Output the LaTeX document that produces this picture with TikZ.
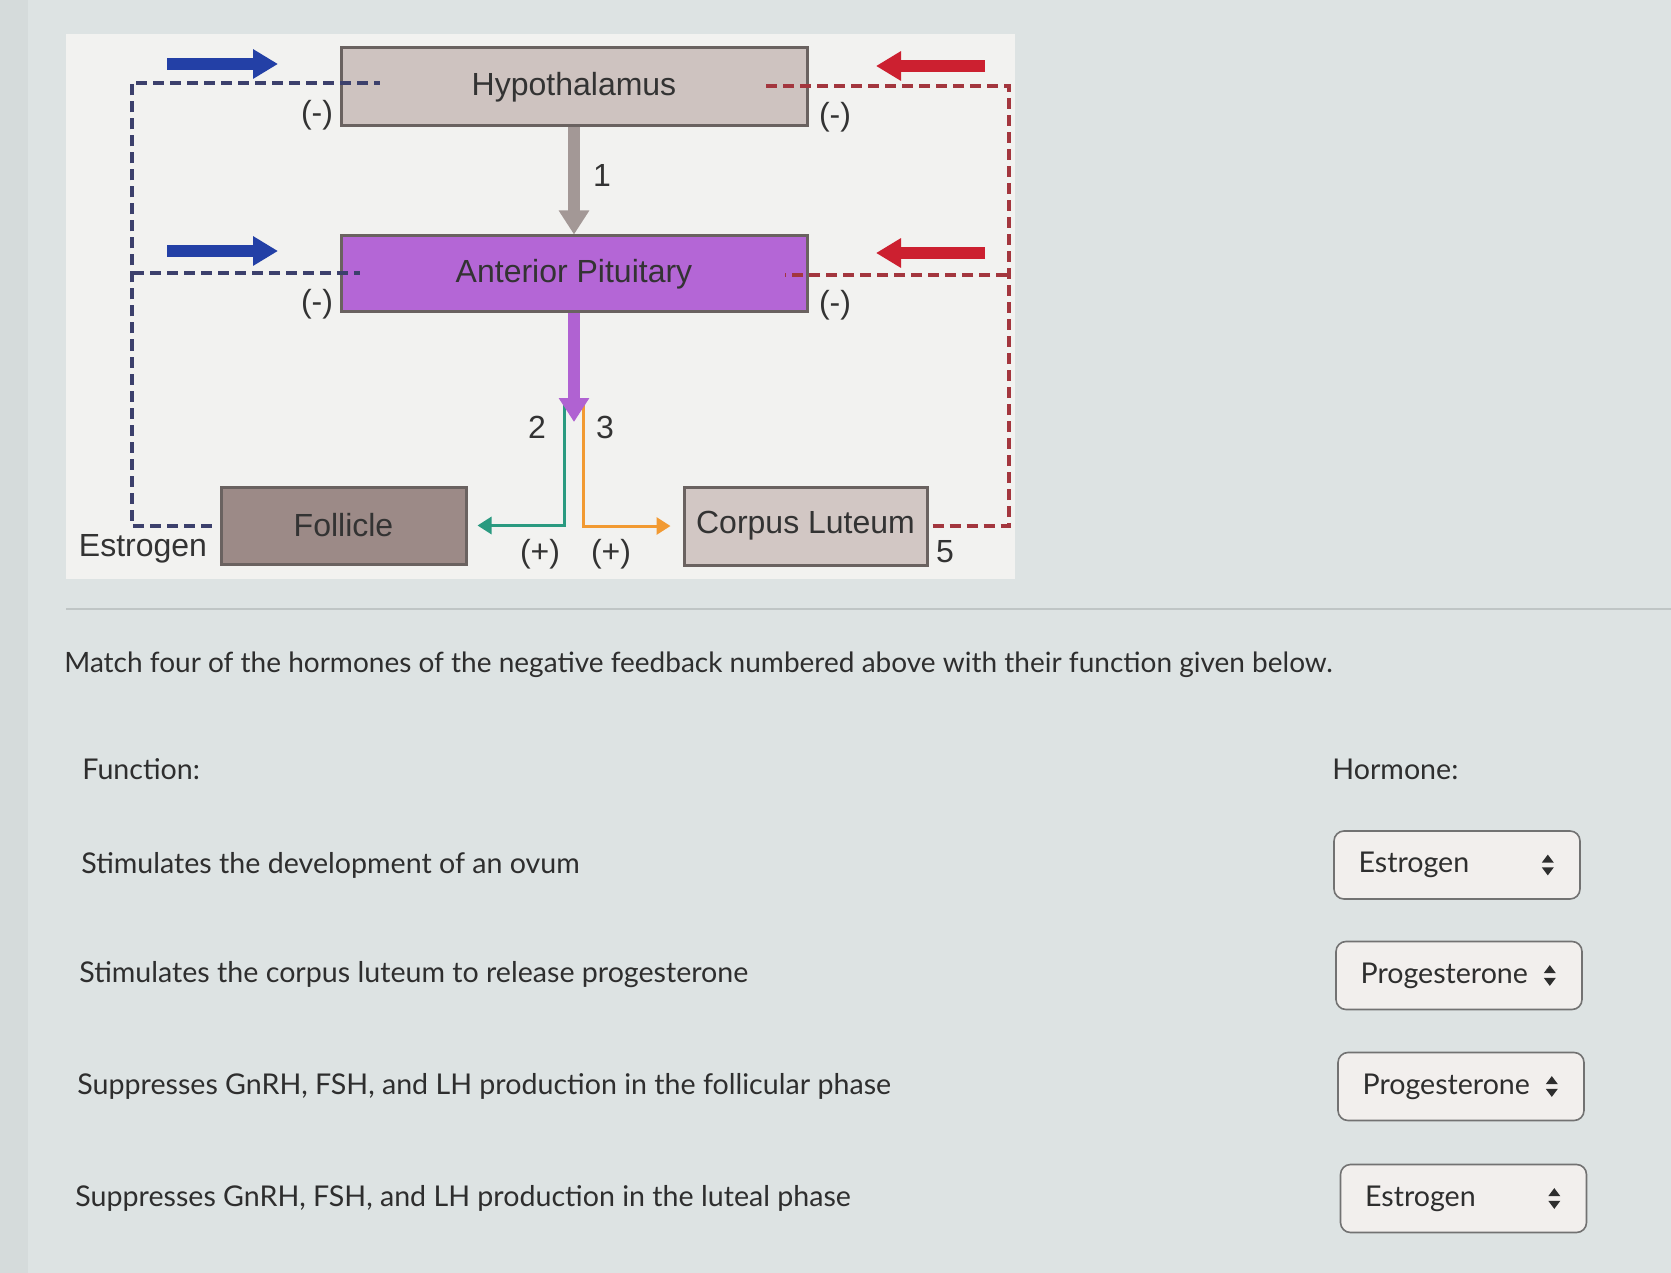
\documentclass[tikz,border=0pt]{standalone}
\usepackage{fontspec}
\setmainfont{Lato}
\newfontfamily\arial{Liberation Sans}
\usetikzlibrary{arrows.meta}
\definecolor{bg}{HTML}{DDE3E3}
\definecolor{bgedge}{HTML}{D5DBDB}
\definecolor{panel}{HTML}{F2F2F0}
\definecolor{boxline}{HTML}{6A6260}
\definecolor{hypfill}{HTML}{CEC3C0}
\definecolor{apfill}{HTML}{B466D6}
\definecolor{folfill}{HTML}{9C8A87}
\definecolor{clfill}{HTML}{D2C7C4}
\definecolor{dtext}{HTML}{333333}
\definecolor{qtxt}{HTML}{2E2E2E}
\definecolor{greyarrow}{HTML}{A39896}
\definecolor{purparrow}{HTML}{B062D2}
\definecolor{bluearrow}{HTML}{2340A6}
\definecolor{redarrow}{HTML}{CC2030}
\definecolor{navydash}{HTML}{3C406C}
\definecolor{reddash}{HTML}{A3363E}
\definecolor{greenline}{HTML}{2A9A80}
\definecolor{orangeline}{HTML}{F29A32}
\definecolor{ddfill}{HTML}{F2EFED}
\definecolor{ddline}{HTML}{727272}
\definecolor{sepc}{HTML}{BFC5C5}
\tikzset{
  box/.style={draw=boxline, line width=1.5pt, inner sep=0pt, minimum width=233pt, minimum height=39pt,
    font=\arial\fontsize{16}{19}\selectfont, text=dtext},
  lbl/.style={font=\arial\fontsize{16}{19}\selectfont, text=dtext, inner sep=0pt},
  hormonearrow/.style={line width=6pt, -{Triangle[length=12pt,width=14.5pt]}},
  fatarrow/.style={line width=6pt, -{Triangle[length=12.5pt,width=14pt]}},
  fb/.style={dash pattern=on 5.5pt off 3pt, line width=2pt},
  thinarrow/.style={line width=1.5pt, -{Triangle[length=7pt,width=8.5pt]}},
  qtext/.style={font=\fontsize{14.3}{17}\selectfont, text=qtxt, anchor=west, inner sep=0pt},
  dd/.style={draw=ddline, fill=ddfill, line width=0.8pt, rounded corners=5pt, minimum width=123pt, minimum height=34pt, inner sep=0pt},
  ddtext/.style={font=\fontsize{14.3}{17}\selectfont, text=qtxt, anchor=west, inner sep=0pt},
}
\begin{document}
\begin{tikzpicture}[x=0.5pt,y=-0.5pt]
\useasboundingbox (0,0) rectangle (1671,1273);
\fill[bg] (0,0) rectangle (1671,1273);
\fill[bgedge] (0,0) rectangle (28,1273);
\fill[panel] (66,34) rectangle (1015,579);

% boxes
\node[box, fill=hypfill] (hyp) at (574,87) {Hypothalamus};
\node[box, fill=apfill, minimum height=38pt] (ap) at (574,274) {Anterior Pituitary};
\node[box, fill=folfill, minimum width=122.5pt, minimum height=38.5pt] (fol) at (343.5,525.5) {Follicle};
\node[box, fill=clfill, minimum width=121.5pt] (cl) at (805.5,526) {Corpus Luteum};

% hormone arrows
\coordinate (g0) at (564,405);
\coordinate (o0) at (583,402);
\draw[thinarrow, greenline] (g0) |- ([xshift=5pt]fol.east);
\draw[thinarrow, orangeline] (o0) |- ([xshift=-6pt]cl.west);
\draw[hormonearrow, greyarrow] (hyp.south) -- (ap.north);
\coordinate (ptip) at (574,422);
\draw[hormonearrow, purparrow] (ap.south) -- (ptip);

% feedback dashed lines
\draw[fb, navydash] ([xshift=-4pt]fol.west) -| ([xshift=-104pt,yshift=2pt]hyp.west) -- ([xshift=20pt,yshift=2pt]hyp.west);
\coordinate (lmid) at (133,273);
\draw[fb, navydash] (lmid) -- ([xshift=10pt,yshift=0.5pt]ap.west);
\draw[fb, reddash] ([xshift=2pt]cl.east) -| ([xshift=100pt,yshift=0.5pt]hyp.east) -- ([xshift=-22pt,yshift=0.5pt]hyp.east);
\coordinate (rmid) at (1007,275);
\draw[fb, reddash] (rmid) -- ([xshift=-12pt,yshift=-0.5pt]ap.east);

% fat blue / red arrows
\coordinate (b1s) at (167,64); \coordinate (b1e) at (278,64);
\coordinate (b2s) at (167,251); \coordinate (b2e) at (278,251);
\coordinate (r1s) at (985,66); \coordinate (r1e) at (876,66);
\coordinate (r2s) at (985,253); \coordinate (r2e) at (876,253);
\draw[fatarrow, bluearrow] (b1s) -- (b1e);
\draw[fatarrow, bluearrow] (b2s) -- (b2e);
\draw[fatarrow, redarrow] (r1s) -- (r1e);
\draw[fatarrow, redarrow] (r2s) -- (r2e);

% labels
\node[lbl] (m1) at (317,115) {(-)};
\node[lbl] (m2) at (317,304) {(-)};
\node[lbl] (m3) at (835,117) {(-)};
\node[lbl] (m4) at (835,305) {(-)};
\node[lbl] (n1) at (602,175) {1};
\node[lbl] (n2) at (537,427) {2};
\node[lbl] (n3) at (605,427) {3};
\node[lbl] (p1) at (540,554) {(+)};
\node[lbl] (p2) at (611,554) {(+)};
\node[lbl] (est) at (143,549) {Estrogen};
\node[lbl] (n5) at (945,552) {5};

% lower part
\draw[sepc, line width=0.8pt] (66,609) -- (1671,609);
\node[qtext, font=\fontsize{14}{17}\selectfont] (q) at (64,665) {Match four of the hormones of the negative feedback numbered above with their function given below.};
\node[qtext] (fn) at (82,769) {Function:};
\node[qtext] (hm) at (1332,769) {Hormone:};
\node[qtext] (f1) at (81,865) {Stimulates the development of an ovum};
\node[qtext] (f2) at (79,975) {Stimulates the corpus luteum to release progesterone};
\node[qtext] (f3) at (77,1086) {Suppresses GnRH, FSH, and LH production in the follicular phase};
\node[qtext] (f4) at (75,1198) {Suppresses GnRH, FSH, and LH production in the luteal phase};

\node[dd] (d1) at (1457,865) {};
\node[dd] (d2) at (1459,975.5) {};
\node[dd] (d3) at (1461,1086.5) {};
\node[dd] (d4) at (1463.5,1198.5) {};
\node[ddtext] (t1) at ([xshift=12.5pt]d1.west) {Estrogen};
\node[ddtext] (t2) at ([xshift=12.5pt]d2.west) {Progesterone};
\node[ddtext] (t3) at ([xshift=12.5pt]d3.west) {Progesterone};
\node[ddtext] (t4) at ([xshift=12.5pt]d4.west) {Estrogen};
\foreach \d in {d1,d2,d3,d4}{
  \fill[qtxt] ([xshift=-19.5pt,yshift=-1.2pt]\d.east) -- ([xshift=-13.5pt,yshift=-1.2pt]\d.east) -- ([xshift=-16.5pt,yshift=-5.2pt]\d.east) -- cycle;
  \fill[qtxt] ([xshift=-19.5pt,yshift=1.2pt]\d.east) -- ([xshift=-13.5pt,yshift=1.2pt]\d.east) -- ([xshift=-16.5pt,yshift=5.2pt]\d.east) -- cycle;
}
\end{tikzpicture}
\end{document}
